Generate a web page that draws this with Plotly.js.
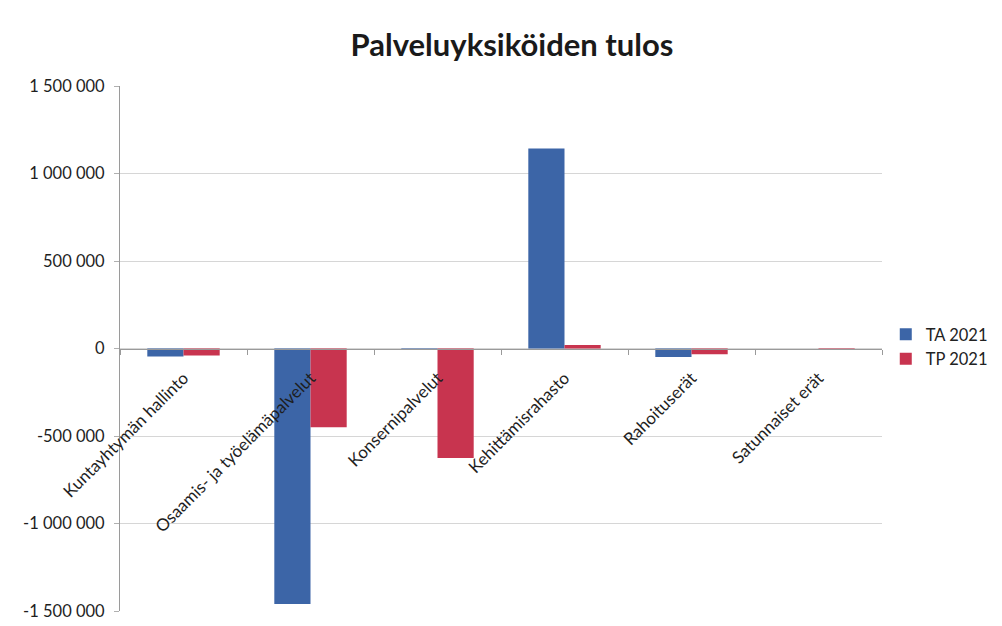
<!DOCTYPE html>
<html>
<head>
<meta charset="utf-8">
<script src="https://cdn.plot.ly/plotly-3.0.1.min.js"></script>
<style>html,body{margin:0;padding:0;background:#fff;}#chart{width:1002px;height:626px;}</style>
</head>
<body>
<div id="chart"></div>
<script>
const categories = ["Kuntayhtymän hallinto", "Osaamis- ja työelämäpalvelut", "Konsernipalvelut", "Kehittämisrahasto", "Rahoituserät", "Satunnaiset erät"];
const seriesNames = ["TA 2021", "TP 2021"];
const ta2021 = [-45000, -1460000, -5000, 1143000, -48000, 0];
const tp2021 = [-40000, -450000, -625000, 20000, -33000, -5000];
const yTickVals = [-1500000, -1000000, -500000, 0, 500000, 1000000, 1500000];
const yTickText = ["-1 500 000", "-1 000 000", "-500 000", "0", "500 000", "1 000 000", "1 500 000"];

const FONT = "Lato, 'Open Sans', sans-serif";
const traces = [
  {type: "bar", name: seriesNames[0], x: categories, y: ta2021, marker: {color: "#3c65a7"}},
  {type: "bar", name: seriesNames[1], x: categories, y: tp2021, marker: {color: "#c8344f"}}
];
const layout = {
  width: 1002, height: 626,
  margin: {l: 120, r: 120, t: 86, b: 15},
  paper_bgcolor: "#ffffff", plot_bgcolor: "#ffffff",
  font: {family: FONT, color: "#222222"},
  title: {text: "<b>Palveluyksiköiden tulos</b>", font: {family: FONT, size: 31, color: "#1a1a1a"},
          xref: "container", x: 0.511, xanchor: "center", yref: "container", y: 0.928, yanchor: "middle"},
  barmode: "group", bargap: 0.43, bargroupgap: 0,
  showlegend: true,
  legend: {xref: "container", yref: "container", x: 0.884, xanchor: "left", y: 0.4936, yanchor: "top",
           font: {family: FONT, size: 16.5, color: "#222"},
           bgcolor: "rgba(0,0,0,0)", tracegroupgap: 12, itemwidth: 30},
  xaxis: {
    type: "category", anchor: "free", position: 0.5, automargin: false,
    showline: true, linecolor: "#9a9a9a", linewidth: 1,
    ticks: "outside", tickson: "boundaries", ticklen: 5, tickcolor: "#9a9a9a",
    tickangle: -45, ticklabelstandoff: 12, tickfont: {family: FONT, size: 17, color: "#1e1e1e"},
    showgrid: false, zeroline: false, fixedrange: true
  },
  yaxis: {
    range: [-1500000, 1500000], tickvals: yTickVals, ticktext: yTickText,
    ticks: "outside", ticklen: 5, tickcolor: "#b0b0b0", ticklabelstandoff: 6,
    tickfont: {family: FONT, size: 16.5, color: "#1e1e1e"},
    showgrid: true, gridcolor: "#d6d6d6", gridwidth: 1,
    showline: true, linecolor: "#9a9a9a", linewidth: 1,
    zeroline: false, automargin: false, fixedrange: true
  }
};
Plotly.newPlot("chart", traces, layout, {displayModeBar: false, staticPlot: true});
</script>
</body>
</html>
